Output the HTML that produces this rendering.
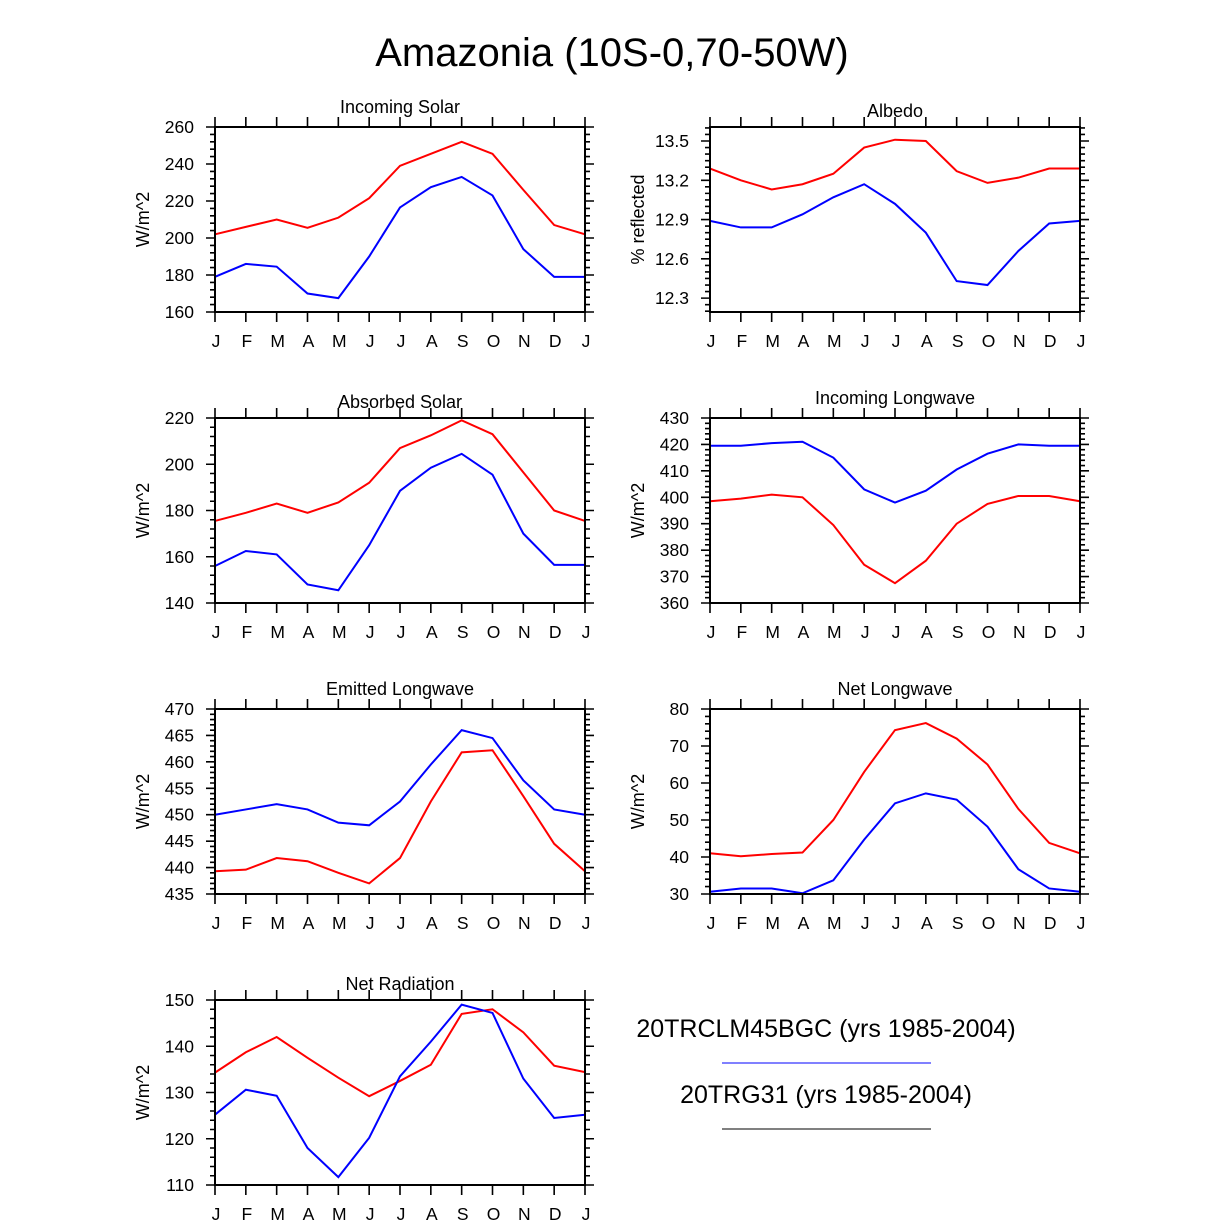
<!DOCTYPE html>
<html><head><meta charset="utf-8"><style>
body{margin:0;background:#fff}
svg{display:block;font-family:"Liberation Sans",sans-serif}
</style></head><body>
<svg id="c" width="1224" height="1222" viewBox="0 0 1224 1222">
<text x="612" y="66" font-size="40" text-anchor="middle">Amazonia (10S-0,70-50W)</text>
<text x="826" y="1037" font-size="25" text-anchor="middle">20TRCLM45BGC (yrs 1985-2004)</text>
<line x1="722" y1="1063" x2="931" y2="1063" stroke="#00f" stroke-width="1"/>
<text x="826" y="1103" font-size="25" text-anchor="middle">20TRG31 (yrs 1985-2004)</text>
<line x1="722" y1="1129" x2="931" y2="1129" stroke="#000" stroke-width="1"/>
</svg>
<script>
const months=["J","F","M","A","M","J","J","A","S","O","N","D","J"];
const solarRed=[202,206,210,205.5,211,221.5,239,245.5,252,245.5,226,207,202];
const solarBlue=[179,186,184.5,170,167.5,190,216.5,227.5,233,223,194,179,179];
const albedoRed=[13.29,13.2,13.13,13.17,13.25,13.45,13.51,13.5,13.27,13.18,13.22,13.29,13.29];
const albedoBlue=[12.89,12.84,12.84,12.94,13.07,13.17,13.02,12.8,12.43,12.4,12.66,12.87,12.89];
const absRed=[175.5,179,183,179,183.5,192,207,212.5,219,213,196.5,180,175.5];
const absBlue=[156,162.5,161,148,145.5,165,188.5,198.5,204.5,195.5,170,156.5,156.5];
const inLwBlue=[419.5,419.5,420.5,421,415,403,398,402.5,410.5,416.5,420,419.5,419.5];
const inLwRed=[398.5,399.5,401,400,389.5,374.5,367.5,376,390,397.5,400.5,400.5,398.5];
const emLwBlue=[450,451,452,451,448.5,448,452.5,459.5,466,464.5,456.5,451,450];
const emLwRed=[439.3,439.6,441.8,441.2,439,437,441.8,452.5,461.8,462.2,453.5,444.5,439.3];
const netLwRed=[41,40.2,40.8,41.2,50,63,74.3,76.2,72,65,53,43.8,41];
const netLwBlue=[30.6,31.5,31.5,30.2,33.7,44.7,54.5,57.2,55.5,48.2,36.7,31.5,30.6];
const netRadRed=[134.3,138.7,142,137.5,133.2,129.2,132.5,136,147,148,143,135.8,134.4];
const netRadBlue=[125.2,130.6,129.3,118,111.7,120.2,133.5,141,149,147.2,133,124.5,125.2];
const solarTicks=[160,180,200,220,240,260];
const albedoTicks=[12.3,12.6,12.9,13.2,13.5];
const absTicks=[140,160,180,200,220];
const inLwTicks=[360,370,380,390,400,410,420,430];
const emLwTicks=[435,440,445,450,455,460,465,470];
const netLwTicks=[30,40,50,60,70,80];
const netRadTicks=[110,120,130,140,150];

const NS="http://www.w3.org/2000/svg";
const svg=document.getElementById('c');
function mk(tag,attrs,parent){const e=document.createElementNS(NS,tag);for(const k in attrs)e.setAttribute(k,attrs[k]);(parent||svg).appendChild(e);return e;}
const panels=[
 {name:"incoming-solar",title:"Incoming Solar",ylab:"W/m^2",x:215,y:127,min:160,max:260,ticks:solarTicks,minor:5,dec:0,red:solarRed,blue:solarBlue,ty:113},
 {name:"albedo",title:"Albedo",ylab:"% reflected",x:710,y:127,min:12.194,max:13.607,ticks:albedoTicks,minor:6,dec:1,red:albedoRed,blue:albedoBlue,ty:117},
 {name:"absorbed-solar",title:"Absorbed Solar",ylab:"W/m^2",x:215,y:418,min:140,max:220,ticks:absTicks,minor:5,dec:0,red:absRed,blue:absBlue,ty:408},
 {name:"incoming-longwave",title:"Incoming Longwave",ylab:"W/m^2",x:710,y:418,min:360,max:430,ticks:inLwTicks,minor:5,dec:0,red:inLwRed,blue:inLwBlue,ty:404},
 {name:"emitted-longwave",title:"Emitted Longwave",ylab:"W/m^2",x:215,y:709,min:435,max:470,ticks:emLwTicks,minor:5,dec:0,red:emLwRed,blue:emLwBlue,ty:695},
 {name:"net-longwave",title:"Net Longwave",ylab:"W/m^2",x:710,y:709,min:30,max:80,ticks:netLwTicks,minor:5,dec:0,red:netLwRed,blue:netLwBlue,ty:695},
 {name:"net-radiation",title:"Net Radiation",ylab:"W/m^2",x:215,y:1000,min:110,max:150,ticks:netRadTicks,minor:5,dec:0,red:netRadRed,blue:netRadBlue,ty:990}
];
const W=370,H=185;
panels.forEach(p=>{
 const g=mk('g',{});
 
 
 const sx=i=>p.x+i*W/12;
 const sy=v=>p.y+H-(v-p.min)/(p.max-p.min)*H;
 const t=mk('text',{x:p.x+W/2,y:p.ty,'font-size':18,'text-anchor':'middle'},g);
 t.textContent=p.title;
 
 
 const yl=mk('text',{x:0,y:0,'font-size':18,'text-anchor':'middle',transform:`translate(${p.x-66},${p.y+H/2}) rotate(-90)`},g);
 yl.textContent=p.ylab;
 
 
 let d="";
 const step=p.ticks[1]-p.ticks[0];
 for(let k=-2;k<p.ticks.length+1;k++){
  for(let m=0;m<p.minor;m++){
   const v=p.ticks[0]+k*step+m*step/p.minor;
   if(v<p.min-1e-9||v>p.max+1e-9)continue;
   const y=sy(v);const L=m==0?9:5;
   d+=`M${p.x-L},${y}H${p.x}M${p.x+W},${y}H${p.x+W+L}`;
  }
 }
 p.ticks.forEach(v=>{
  const tl=mk('text',{x:p.x-21,y:sy(v)+6,'font-size':17.5,'text-anchor':'end'},g);
  tl.textContent=v.toFixed(p.dec);
  
  
 });
 months.forEach((m,i)=>{
  const x=sx(i);
  d+=`M${x},${p.y}V${p.y-10}M${x},${p.y+H}V${p.y+H+10}`;
  const xl=mk('text',{x:x+1,y:p.y+H+35,'font-size':17.5,'text-anchor':'middle'},g);
  xl.textContent=m;
  
  
 });
 const tk=mk('path',{d:d,stroke:'#000','stroke-width':1.6,fill:'none'},g);
 
 
 [['red','#f00'],['blue','#00f']].forEach(([k,c])=>{
  const pts=p[k].map((v,i)=>sx(i)+','+sy(v)).join(' ');
  const l=mk('polyline',{points:pts,fill:'none',stroke:c,'stroke-width':2},g);
  
  
 });
 const fr=mk('rect',{x:p.x,y:p.y,width:W,height:H,fill:'none',stroke:'#000','stroke-width':2},g);
 
 
});
</script>
</body></html>
